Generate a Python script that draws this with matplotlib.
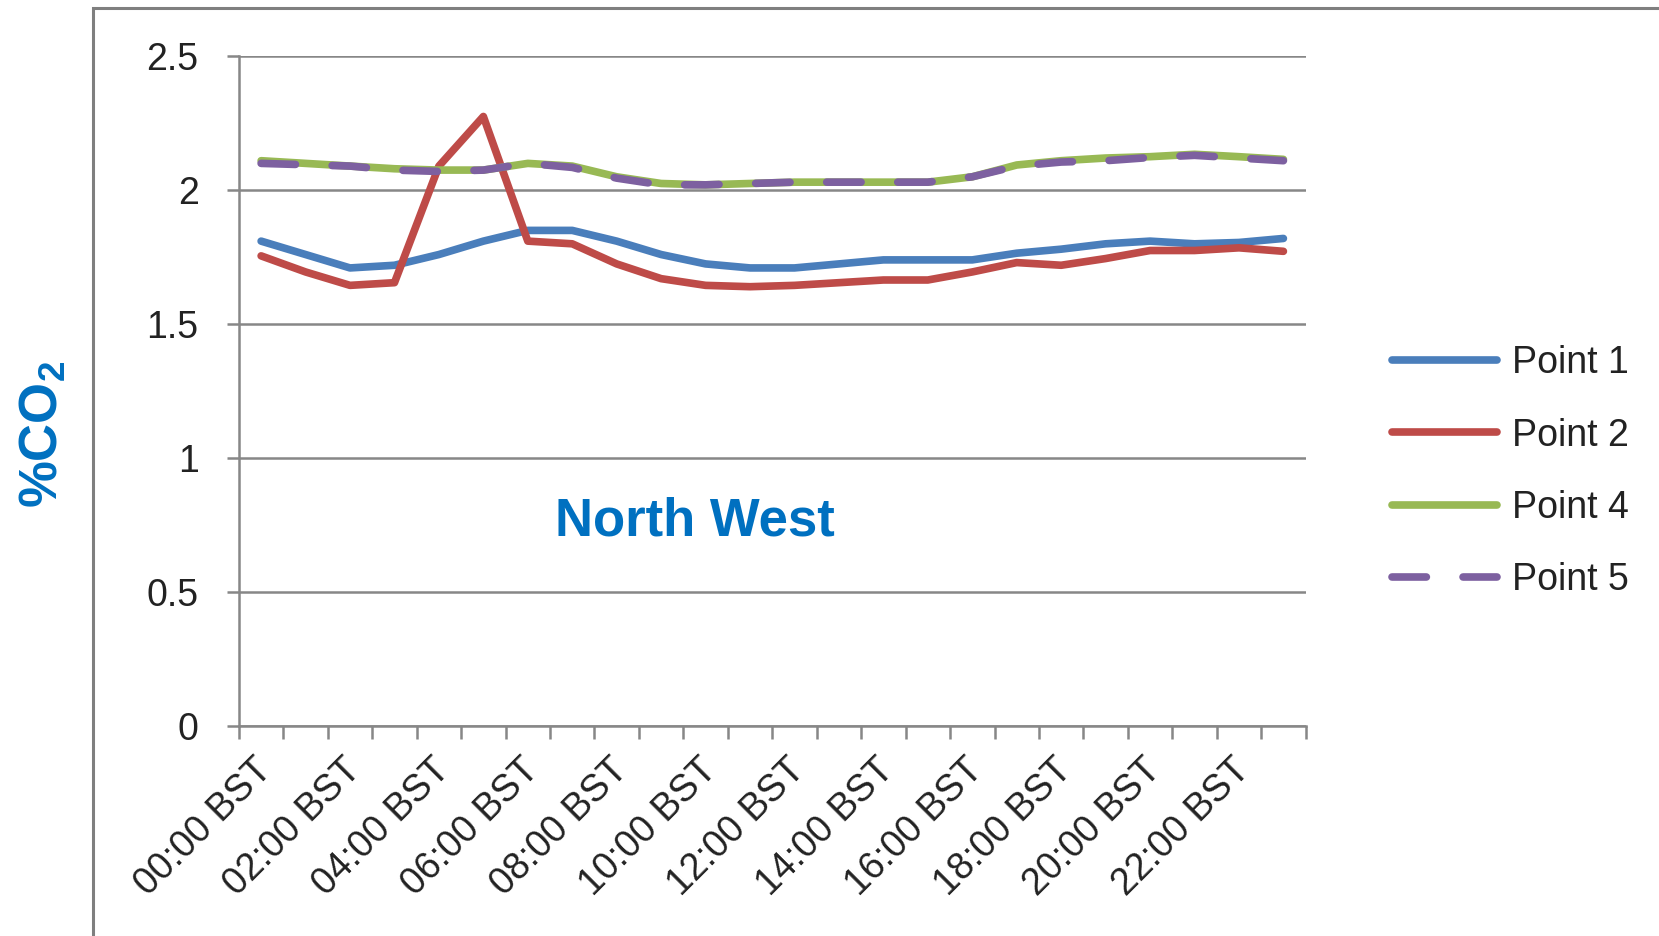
import matplotlib
matplotlib.use("Agg")
import matplotlib.pyplot as plt
import matplotlib.transforms as mtransforms
from matplotlib import font_manager
from matplotlib.patches import Rectangle

# =========================
# data
# =========================
hours = [f"{h:02d}:00 BST" for h in range(24)]

point1 = [1.81, 1.76, 1.71, 1.72, 1.76, 1.81, 1.85, 1.85, 1.81, 1.76, 1.725, 1.71,
          1.71, 1.725, 1.74, 1.74, 1.74, 1.765, 1.78, 1.80, 1.81, 1.80, 1.805, 1.82]
point2 = [1.755, 1.695, 1.645, 1.655, 2.09, 2.275, 1.81, 1.80, 1.725, 1.67, 1.645, 1.64,
          1.645, 1.655, 1.665, 1.665, 1.695, 1.73, 1.72, 1.745, 1.775, 1.775, 1.785, 1.772]
point4 = [2.11, 2.10, 2.09, 2.08, 2.075, 2.075, 2.10, 2.09, 2.05, 2.025, 2.02, 2.025,
          2.03, 2.03, 2.03, 2.03, 2.05, 2.094, 2.11, 2.12, 2.125, 2.134, 2.125, 2.115]
point5 = [2.10, 2.095, 2.09, 2.075, 2.07, 2.075, 2.10, 2.085, 2.045, 2.02, 2.02, 2.025,
          2.03, 2.03, 2.03, 2.03, 2.05, 2.09, 2.105, 2.11, 2.122, 2.13, 2.12, 2.11]

y_ticks = [0, 0.5, 1, 1.5, 2, 2.5]
y_tick_labels = ["0", "0.5", "1", "1.5", "2", "2.5"]

# =========================
# fonts
# =========================
names = {f.name for f in font_manager.fontManager.ttflist}
base_font = "Liberation Sans Narrow" if "Liberation Sans Narrow" in names else "Liberation Sans"
plt.rcParams["font.family"] = [base_font, "DejaVu Sans"]
plt.rcParams["mathtext.fontset"] = "custom"
plt.rcParams["mathtext.bf"] = "Liberation Sans:bold"
plt.rcParams["mathtext.default"] = "bf"

GRID = "#878787"
TXT = "#222222"

fig = plt.figure(figsize=(16.59, 9.36), dpi=100)
ax = fig.add_axes([0.144, 0.224, 0.643, 0.716])

x = list(range(len(hours)))
lw = 5.5
ax.plot(x, point1, color="#4A7EBB", lw=lw, label="Point 1", solid_capstyle="round", zorder=3)
ax.plot(x, point2, color="#BE4B48", lw=lw, label="Point 2", solid_capstyle="round", zorder=3)
ax.plot(x, point4, color="#98B954", lw=lw, label="Point 4", solid_capstyle="round", zorder=3)
ax.plot(x, point5, color="#7D60A0", lw=lw, label="Point 5", linestyle=(0, (4.5, 4.8)),
        dash_capstyle="round", zorder=4)

# axes
ax.set_xlim(-0.5, len(hours) - 0.5)
ax.set_ylim(0, 2.5)
ax.set_yticks(y_ticks)
ax.set_yticklabels(y_tick_labels)
ax.grid(True, axis="y", color=GRID, lw=1.8)
ax.set_axisbelow(True)

ax.set_xticks([i - 0.5 for i in range(len(hours) + 1)])
ax.set_xticklabels([])
ax.set_xticks(x[::2], minor=True)
ax.set_xticklabels(hours[::2], minor=True, rotation=45, ha="right", va="top",
                   fontsize=27, color=TXT)
ax.tick_params(axis="x", which="major", length=9, width=1.8, color=GRID, direction="out")
ax.tick_params(axis="x", which="minor", length=0, pad=18)
ax.tick_params(axis="y", length=9, width=1.8, color=GRID, labelsize=27,
               labelcolor=TXT, pad=20)
shift = mtransforms.ScaledTranslation(18 / 100, 0, fig.dpi_scale_trans)
for lab in ax.get_xticklabels(minor=True):
    lab.set_transform(lab.get_transform() + shift)

for s in ["top", "right"]:
    ax.spines[s].set_visible(False)
ax.spines["left"].set_color(GRID)
ax.spines["left"].set_linewidth(1.8)
ax.spines["bottom"].set_color(GRID)
ax.spines["bottom"].set_linewidth(1.8)

# labels
ax.text(0.427, 0.305, "North West", transform=ax.transAxes, ha="center", va="center",
        fontsize=38, fontweight="bold", color="#0070C0", family="Liberation Sans")
fig.text(0.026, 0.536, r"%CO$_2$", rotation=90, ha="center", va="center",
         fontsize=38, fontweight="bold", color="#0070C0", family="Liberation Sans")

# legend
ax.legend(loc="center left", bbox_to_anchor=(0.819, 0.496), bbox_transform=fig.transFigure,
          frameon=False, fontsize=27, handlelength=2.8, handletextpad=0.4,
          labelspacing=0.97, labelcolor=TXT)

# outer frame (cropped border of the original chart)
fig.add_artist(Rectangle((0.056, -0.2), 1.2, 1.191, transform=fig.transFigure,
                         fill=False, edgecolor="#7F7F7F", lw=2.2))

fig.savefig("out.png", dpi=100)
